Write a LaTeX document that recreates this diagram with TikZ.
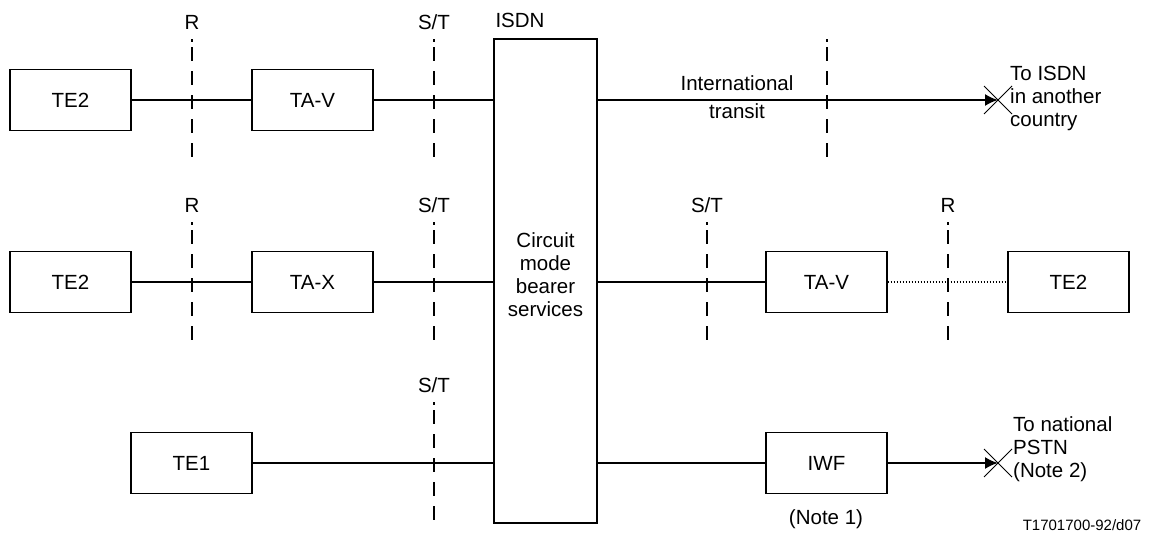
\documentclass[tikz,border=0pt]{standalone}
\usepackage{fontspec}
\setmainfont{Liberation Sans}
\usetikzlibrary{arrows.meta,calc}
\begin{document}
\begin{tikzpicture}[x=1pt,y=-1pt,
  box/.style={draw,line width=1.3pt,minimum width=121pt,minimum height=61pt,inner sep=0pt,font=\fontsize{20.5}{24}\selectfont},
  conn/.style={line width=1.8pt},
  refline/.style={line width=1.3pt,dash pattern=on 3pt off 5pt on 14pt off 10pt on 14pt off 10pt on 14pt off 10pt on 14pt off 10pt on 14pt off 10pt},
  lbl/.style={font=\fontsize{20.5}{23}\selectfont,inner sep=0pt},
  dots/.style={line width=1.8pt,dash pattern=on 1.5pt off 1.5pt},
  tip/.style={-{Latex[length=13pt,width=12pt]}},
  xmark/.style={line width=1pt}]
\useasboundingbox (0,0) rectangle (1154,533);
% boxes
\node[box] (te2a) at (70.5,100) {TE2};
\node[box] (tava) at (312.5,100) {TA-V};
\node[box] (te2b) at (70.5,282) {TE2};
\node[box] (tax) at (312.5,282) {TA-X};
\node[box] (te1) at (191.5,463) {TE1};
\node[draw,line width=1.3pt,minimum width=103pt,minimum height=484pt,inner sep=0pt] (isdn) at (545.5,281) {};
\node[lbl,align=center] (isdntxt) at (545.5,275) {Circuit\\mode\\bearer\\services};
\node[lbl] (isdnlbl) at (520,20) {ISDN};
\node[box] (tavb) at (826.5,282) {TA-V};
\node[box] (te2c) at (1068.5,282) {TE2};
\node[box] (iwf) at (826.5,463) {IWF};
% connectors
\draw[conn] (te2a) -- (tava);
\draw[conn] (tava) -- (tava -| isdn.west);
\draw[conn] (te2b) -- (tax);
\draw[conn] (tax) -- (tax -| isdn.west);
\draw[conn] (te1) -- (te1 -| isdn.west);
\draw[conn] (tavb -| isdn.east) -- (tavb);
\draw[dots] (tavb) -- (te2c);
\draw[conn] (iwf -| isdn.east) -- (iwf);
\coordinate (endA) at (998,100);
\coordinate (endB) at (998,463);
\draw[conn,tip] (isdn.east |- endA) -- (endA);
\draw[conn,tip] (iwf) -- (endB);
\draw[xmark] ($(endA)+(-14,-14)$) -- ($(endA)+(14,14)$);
\draw[xmark] ($(endA)+(-14,14)$) -- ($(endA)+(14,-14)$);
\draw[xmark] ($(endB)+(-14,-14)$) -- ($(endB)+(14,14)$);
\draw[xmark] ($(endB)+(-14,14)$) -- ($(endB)+(14,-14)$);
% reference points
\coordinate (r1t) at (192,39); \coordinate (r1b) at (192,160);
\coordinate (s1t) at (434,39); \coordinate (s1b) at (434,160);
\coordinate (itt) at (827,39); \coordinate (itb) at (827,160);
\coordinate (r2t) at (192,222); \coordinate (r2b) at (192,342);
\coordinate (s2t) at (434,222); \coordinate (s2b) at (434,342);
\coordinate (s3t) at (707,222); \coordinate (s3b) at (707,342);
\coordinate (r3t) at (948,222); \coordinate (r3b) at (948,342);
\coordinate (s4t) at (434,402); \coordinate (s4b) at (434,523);
\foreach \a/\b in {r1t/r1b,s1t/s1b,itt/itb,r2t/r2b,s2t/s2b,s3t/s3b,r3t/r3b,s4t/s4b}
  \draw[refline] (\a) -- (\b);
\node[lbl] (lr1) at (192,22) {R};
\node[lbl] (ls1) at (434,22) {S/T};
\node[lbl] (lr2) at (192,205) {R};
\node[lbl] (ls2) at (434,205) {S/T};
\node[lbl] (ls3) at (707,205) {S/T};
\node[lbl] (lr3) at (948,205) {R};
\node[lbl] (ls4) at (434,385) {S/T};
\node[lbl] (intl) at (737,83) {International};
\node[lbl] (trans) at (737,111) {transit};
\node[lbl,align=left,anchor=west] (toisdn) at (1010,98) {To ISDN\\in another\\country};
\node[lbl,align=left,anchor=west] (topstn) at (1013,449) {To national\\PSTN\\(Note 2)};
\node[lbl] (note1) at (826,519) {(Note 1)};
\node[font=\fontsize{15}{18}\selectfont,inner sep=0pt] (code) at (1082,525) {T1701700-92/d07};
\end{tikzpicture}
\end{document}
